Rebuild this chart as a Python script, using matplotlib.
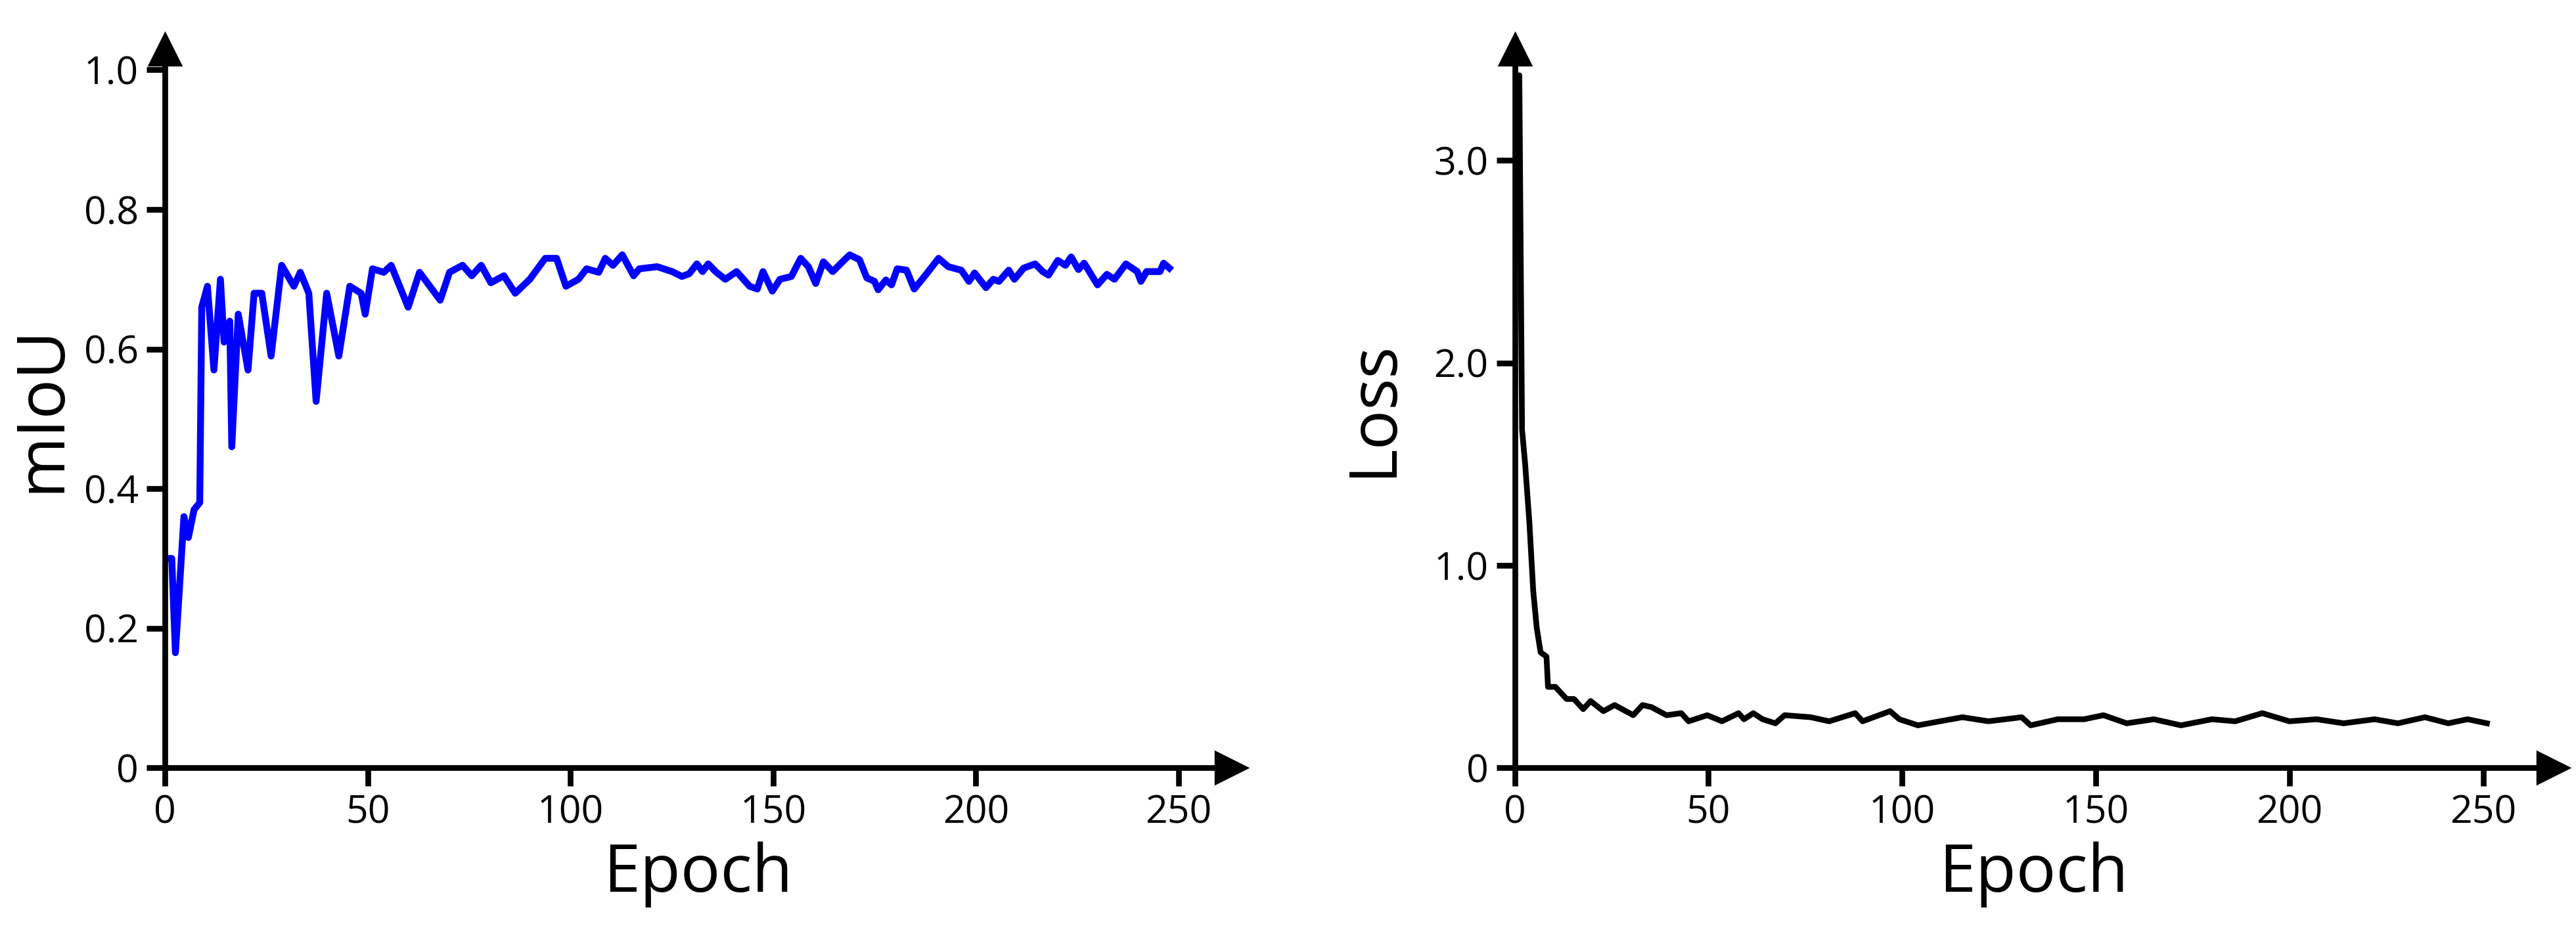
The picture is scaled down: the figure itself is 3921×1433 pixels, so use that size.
import matplotlib

matplotlib.use("Agg")
import matplotlib.pyplot as plt

plt.rcParams["font.family"] = ["Open Sans", "DejaVu Sans"]

# mIoU curve
miou_epoch = [0, 1.7, 2.6, 4.7, 5.8, 7.2, 8.6, 9.1, 10.5, 12.1, 13.7, 14.6, 16, 16.5, 18.1,
              20.5, 22, 23.9, 26.2, 28.8, 31.8, 33.4, 35.5, 37.3, 39.9, 42.9, 45.6, 48.4,
              49.4, 51.2, 54, 55.8, 60, 62.8, 67.9, 70.2, 73.4, 75.7, 78, 80.4, 83.6, 86.4,
              90, 93.8, 96.6, 98.9, 102, 104, 107, 108.6, 110.5, 112.8, 115.6, 117,
              121.4, 125.1, 127.5, 129.3, 131.2, 132.6, 134, 135.8, 138.2, 141, 144.2, 146.1,
              147.5, 149.8, 151.7, 154.5, 156.8, 158.7, 160.5, 162.4, 164.7, 167.1, 168.9,
              171.3, 173.1, 175, 175.9, 177.8, 179.2, 180.6, 182.9, 184.8, 188, 190.8, 193.2,
              196.4, 198.3, 199.7, 202.5, 204.3, 205.7, 208.1, 209.5, 211.8, 214.6, 216.5,
              217.9, 220.2, 222.1, 223.5, 225.3, 226.7, 230, 232.3, 234.2, 237, 239.8, 240.7,
              242.1, 245.4, 246.3, 247.7]
miou_value = [0.30, 0.30, 0.165, 0.36, 0.33, 0.37, 0.38, 0.66, 0.69, 0.57, 0.70, 0.61, 0.64,
              0.46, 0.65, 0.57, 0.68, 0.68, 0.59, 0.72, 0.69, 0.71, 0.68, 0.525, 0.68, 0.59,
              0.69, 0.68, 0.65, 0.715, 0.71, 0.72, 0.66, 0.71, 0.67, 0.71, 0.72, 0.705, 0.72,
              0.695, 0.705, 0.68, 0.70, 0.73, 0.73, 0.69, 0.70, 0.715, 0.71, 0.73, 0.72, 0.735,
              0.705, 0.715,
              0.718, 0.711, 0.704, 0.708, 0.722, 0.711, 0.722, 0.711, 0.700, 0.711, 0.690,
              0.686, 0.711, 0.683, 0.700, 0.704, 0.730, 0.718, 0.694, 0.725, 0.711, 0.725,
              0.735, 0.728, 0.702, 0.697, 0.685, 0.699, 0.692, 0.715, 0.713, 0.686, 0.709,
              0.730, 0.718, 0.713, 0.697, 0.709, 0.688, 0.700, 0.697, 0.713, 0.700, 0.716,
              0.722, 0.711, 0.706, 0.727, 0.720, 0.732, 0.714, 0.723, 0.692, 0.707, 0.700,
              0.722, 0.711, 0.697, 0.711, 0.711, 0.723, 0.716]

# training loss curve
loss_epoch = [0, 1.2, 1.9, 2.7, 3.8, 4.8, 5.7, 6.7, 8.2, 8.6, 10.5, 13.4, 15.3, 17.7, 19.6,
              22.9, 25.8, 30.6, 33, 35.3, 39.2, 43, 44.9, 49.7, 53.5, 57.8, 59.2, 61.6, 64,
              67.3, 69.7, 76.4, 81.2, 87.9, 89.8, 96.9, 99.3, 104.1, 109.8, 115.6, 122.3,
              130.9, 133.2, 140.2, 147, 152, 158, 165, 172, 180, 186, 193, 200, 207, 214,
              222, 228, 235, 241, 246, 251]
loss_value = [3.1, 3.42, 1.67, 1.50, 1.21, 0.87, 0.69, 0.57, 0.55, 0.40, 0.40, 0.34, 0.34,
              0.29, 0.33, 0.28, 0.31, 0.26, 0.31, 0.30, 0.26, 0.27, 0.23, 0.26, 0.23, 0.27,
              0.24, 0.27, 0.24, 0.22, 0.26, 0.25, 0.23, 0.27, 0.23, 0.28, 0.24, 0.21, 0.23,
              0.25, 0.23, 0.25, 0.21, 0.24, 0.24, 0.26, 0.22, 0.24, 0.21, 0.24, 0.23, 0.27,
              0.23, 0.24, 0.22, 0.24, 0.22, 0.25, 0.22, 0.24, 0.22]

miou_ticks = [0, 0.2, 0.4, 0.6, 0.8, 1.0]
miou_ticklabels = ["0", "0.2", "0.4", "0.6", "0.8", "1.0"]
loss_ticks = [0, 1.0, 2.0, 3.0]
loss_ticklabels = ["0", "1.0", "2.0", "3.0"]
epoch_ticks = [0, 50, 100, 150, 200, 250]


def style_axes(ax, xmax, ymax):
    ax.set_xlim(0, xmax)
    ax.set_ylim(0, ymax)
    for s in ("top", "right"):
        ax.spines[s].set_visible(False)
    for s in ("left", "bottom"):
        ax.spines[s].set_linewidth(2.5)
    ax.plot(1, 0, ">k", ms=14, transform=ax.transAxes, clip_on=False)
    ax.plot(0, 1, "^k", ms=14, transform=ax.transAxes, clip_on=False)
    ax.set_xticks(epoch_ticks)
    ax.tick_params(labelsize=17, width=2.5, length=8)
    ax.set_xlabel("Epoch", fontsize=29)


fig = plt.figure(figsize=(3921 / 250, 1433 / 250), dpi=250)
ax1 = fig.add_axes([0.064, 0.184, 0.414, 0.764])
ax2 = fig.add_axes([0.588, 0.184, 0.403, 0.764])

ax1.plot(miou_epoch, miou_value, color="#0000ff", lw=3)
style_axes(ax1, 263, 1.03)
ax1.set_yticks(miou_ticks, miou_ticklabels)
ax1.set_ylabel("mIoU", fontsize=29, labelpad=4)

ax2.plot(loss_epoch, loss_value, color="black", lw=2.5)
style_axes(ax2, 268, 3.55)
ax2.set_yticks(loss_ticks, loss_ticklabels)
ax2.set_ylabel("Loss", fontsize=29, labelpad=12)

fig.savefig("out.png")
